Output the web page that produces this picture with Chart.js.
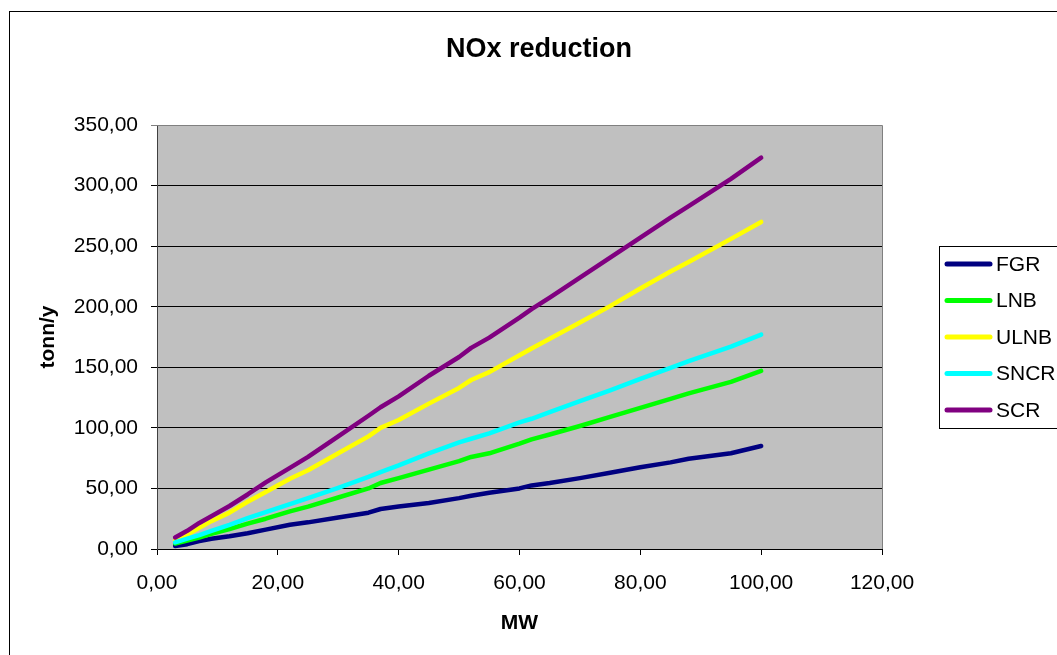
<!DOCTYPE html>
<html>
<head>
<meta charset="utf-8">
<script src="https://cdn.jsdelivr.net/npm/chart.js@4/dist/chart.umd.min.js"></script>
<style>
  html, body { margin: 0; padding: 0; background: #ffffff; }
  #wrap { position: relative; width: 1057px; height: 655px; }
</style>
</head>
<body>
<div id="wrap"><canvas id="c" width="1057" height="655"></canvas></div>
<script>
// Plant capacity (MW) and annual NOx reduction (tonn/y) per technique
const mw   = [3, 5, 7, 9, 12, 15, 18, 22, 25, 30, 35, 37, 40, 45, 50, 52, 55, 60, 62, 65, 70, 75, 80, 85, 88, 95, 100];
const fgr  = [2.5, 4, 6.5, 8.5, 10.5, 13, 16, 20, 22, 26, 30, 33, 35, 38, 42, 44, 46.5, 50, 52.5, 54.5, 58.5, 63, 67.5, 71.5, 74.5, 79, 85];
const lnb  = [4.5, 7, 9.5, 12.5, 16.5, 21, 25, 31, 35, 42.5, 50, 54.5, 58.5, 65.5, 72.5, 76, 79, 87, 90.5, 94.5, 101.5, 109, 116.5, 124, 128.5, 138, 147];
const ulnb = [7, 12, 17.5, 23, 30, 39, 47, 58, 65, 79, 93, 100, 106.5, 120, 133, 139.5, 146, 160, 165.5, 173.5, 187, 200.5, 215, 229, 237, 256, 270];
const sncr = [5.5, 8.5, 11.5, 15, 20, 25.5, 30.5, 37, 42, 50.5, 59.5, 63.5, 69, 79, 88, 91, 95.5, 104.5, 107.5, 113, 122, 131, 140.5, 149.5, 155, 167, 177];
const scr  = [9.5, 15, 21.5, 27, 35.5, 45, 55, 67, 76, 93, 110, 117, 126, 143, 158.5, 166, 174.5, 191, 198, 207.5, 224, 240.5, 257, 273.5, 283, 305.5, 323];

const seriesNames  = ['FGR', 'LNB', 'ULNB', 'SNCR', 'SCR'];
const seriesValues = [fgr, lnb, ulnb, sncr, scr];
const seriesColors = ['#000080', '#00FF00', '#FFFF00', '#00FFFF', '#800080'];

const titleText = 'NOx reduction';
const xTitle = 'MW';
const yTitle = 'tonn/y';

const FONT = "Arial, 'Liberation Sans', sans-serif";
const fmt = v => Number(v).toFixed(2).replace('.', ',');

const datasets = seriesNames.map((name, s) => ({
  label: name,
  data: mw.map((x, i) => ({ x: x, y: seriesValues[s][i] })),
  borderColor: seriesColors[s],
  backgroundColor: seriesColors[s],
  borderWidth: 4.5,
  borderCapStyle: 'round',
  borderJoinStyle: 'round',
  pointRadius: 0,
  tension: 0,
  fill: false,
  order: seriesNames.length - s
}));

// Frame, plot background, titles and legend box
const decor = {
  id: 'decor',
  beforeDraw(chart) {
    const ctx = chart.ctx;
    const a = chart.chartArea;
    ctx.save();
    ctx.fillStyle = '#ffffff';
    ctx.fillRect(0, 0, chart.width, chart.height);
    // outer frame
    ctx.strokeStyle = '#000000';
    ctx.lineWidth = 1;
    ctx.strokeRect(9.5, 11.5, 1200, 800);
    // plot background
    ctx.fillStyle = '#C0C0C0';
    ctx.fillRect(a.left, a.top, a.right - a.left, a.bottom - a.top);
    ctx.restore();
  },
  beforeDatasetsDraw(chart) {
    const ctx = chart.ctx;
    const a = chart.chartArea;
    ctx.save();
    ctx.strokeStyle = '#808080';
    ctx.lineWidth = 1;
    ctx.beginPath();
    ctx.moveTo(a.left, a.top + 0.5);
    ctx.lineTo(a.right + 0.5, a.top + 0.5);
    ctx.lineTo(a.right + 0.5, a.bottom);
    ctx.stroke();
    ctx.restore();
  },
  afterDraw(chart) {
    const ctx = chart.ctx;
    const a = chart.chartArea;
    ctx.save();
    ctx.fillStyle = '#000000';
    ctx.textBaseline = 'middle';
    // chart title
    ctx.font = 'bold 27px ' + FONT;
    ctx.textAlign = 'center';
    ctx.fillText(titleText, 539, 50);
    // axis titles
    ctx.font = 'bold 21px ' + FONT;
    ctx.fillText(xTitle, (a.left + a.right) / 2, 623);
    ctx.save();
    ctx.translate(48, (a.top + a.bottom) / 2);
    ctx.rotate(-Math.PI / 2);
    ctx.fillText(yTitle, 0, 0);
    ctx.restore();
    // legend
    const bx = 939.5, by = 246.5, step = 36.5, y0 = 264;
    ctx.strokeStyle = '#000000';
    ctx.lineWidth = 1;
    ctx.strokeRect(bx, by, 200, 182);
    ctx.font = '21px ' + FONT;
    ctx.textAlign = 'left';
    chart.data.datasets.forEach((ds, i) => {
      const y = y0 + i * step;
      ctx.strokeStyle = ds.borderColor;
      ctx.lineWidth = 5;
      ctx.lineCap = 'round';
      ctx.beginPath();
      ctx.moveTo(947, y);
      ctx.lineTo(990, y);
      ctx.stroke();
      ctx.fillStyle = '#000000';
      ctx.fillText(ds.label, 996, y + 1);
    });
    ctx.restore();
  }
};

new Chart(document.getElementById('c'), {
  type: 'line',
  data: { datasets: datasets },
  options: {
    responsive: false,
    animation: false,
    devicePixelRatio: 1,
    layout: { padding: { left: 0, top: 125, right: 175, bottom: 0 } },
    plugins: {
      legend: { display: false },
      title: { display: false },
      tooltip: { enabled: false }
    },
    scales: {
      x: {
        type: 'linear',
        min: 0,
        max: 120,
        afterFit(scale) { scale.height = 106; },
        ticks: {
          stepSize: 20,
          color: '#000000',
          font: { family: FONT, size: 21 },
          padding: 16,
          maxRotation: 0,
          callback: v => fmt(v)
        },
        grid: {
          drawOnChartArea: false,
          drawTicks: true,
          tickLength: 6,
          color: '#000000'
        },
        border: { display: true, color: '#000000', width: 1 },
        title: { display: false }
      },
      y: {
        type: 'linear',
        min: 0,
        max: 350,
        afterFit(scale) { scale.width = 157; },
        ticks: {
          stepSize: 50,
          color: '#000000',
          font: { family: FONT, size: 21 },
          padding: 13,
          callback: v => fmt(v)
        },
        grid: {
          drawTicks: true,
          tickLength: 6,
          color: ctx => (ctx.tick && ctx.tick.value === 350) ? '#808080' : '#000000',
          lineWidth: 1
        },
        border: { display: true, color: '#404040', width: 1 },
        title: { display: false }
      }
    }
  },
  plugins: [decor]
});
</script>
</body>
</html>
